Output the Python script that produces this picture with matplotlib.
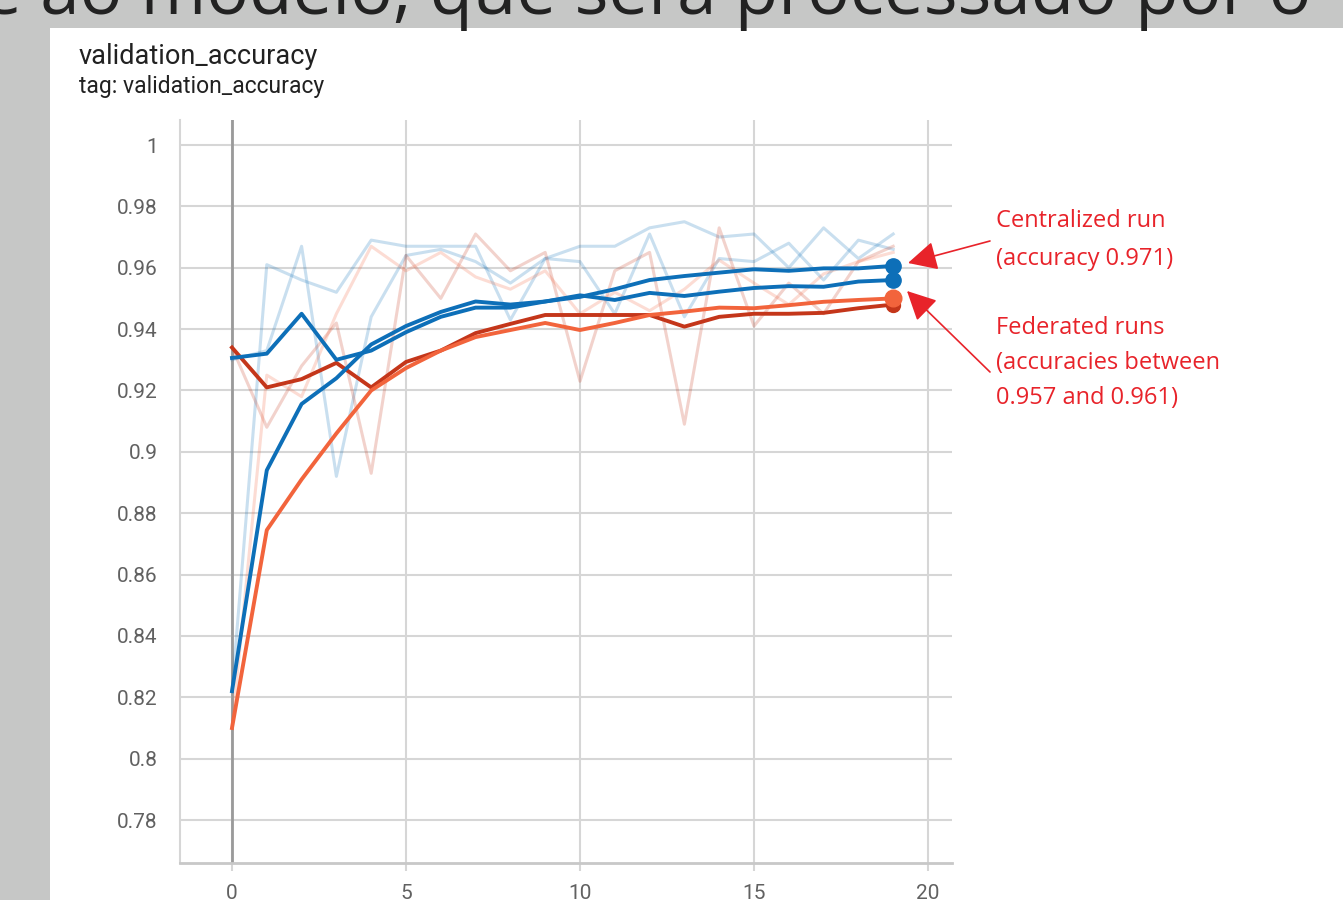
#Recreate TensorBoard validation_accuracy chart (video frame screenshot)
import matplotlib
matplotlib.use("Agg")
import matplotlib.pyplot as plt
from matplotlib.patches import Rectangle, FancyArrowPatch

#Data
steps = list(range(20))

# smoothed curves
blue_a_smooth = [0.9306, 0.932, 0.945, 0.930, 0.933, 0.939, 0.944, 0.947, 0.947, 0.949,
                 0.951, 0.9495, 0.9518, 0.9508, 0.9522, 0.9534, 0.954, 0.9538, 0.9555, 0.956]
blue_b_smooth = [0.822, 0.894, 0.9156, 0.924, 0.935, 0.941, 0.9456, 0.949, 0.948, 0.949,
                 0.9505, 0.953, 0.956, 0.9573, 0.9584, 0.9595, 0.959, 0.9598, 0.9598, 0.9606]
red_smooth = [0.934, 0.921, 0.9237, 0.929, 0.921, 0.9293, 0.933, 0.9387, 0.9417, 0.9446,
              0.9446, 0.9446, 0.9446, 0.9408, 0.944, 0.945, 0.945, 0.9453, 0.9468, 0.948]
orange_smooth = [0.810, 0.8745, 0.891, 0.906, 0.920, 0.9273, 0.933, 0.9374, 0.9397, 0.942,
                 0.9397, 0.942, 0.9446, 0.9457, 0.947, 0.9468, 0.9478, 0.9489, 0.9495, 0.950]

# raw curves (faint)
blue_a_raw = [0.930, 0.933, 0.967, 0.892, 0.944, 0.964, 0.966, 0.962, 0.955, 0.963,
              0.967, 0.967, 0.973, 0.975, 0.970, 0.971, 0.960, 0.973, 0.963, 0.971]
blue_b_raw = [0.822, 0.961, 0.956, 0.952, 0.969, 0.967, 0.967, 0.967, 0.943, 0.963,
              0.962, 0.945, 0.971, 0.944, 0.963, 0.962, 0.968, 0.956, 0.969, 0.966]
red_raw = [0.934, 0.908, 0.928, 0.942, 0.893, 0.964, 0.950, 0.971, 0.959, 0.965,
           0.923, 0.959, 0.965, 0.909, 0.973, 0.941, 0.955, 0.945, 0.962, 0.967]
orange_raw = [0.810, 0.925, 0.918, 0.945, 0.967, 0.959, 0.965, 0.957, 0.953, 0.959,
              0.945, 0.952, 0.946, 0.953, 0.9625, 0.955, 0.948, 0.958, 0.962, 0.965]

y_ticks = [1, 0.98, 0.96, 0.94, 0.92, 0.9, 0.88, 0.86, 0.84, 0.82, 0.8, 0.78]
y_labels = ["1", "0.98", "0.96", "0.94", "0.92", "0.9", "0.88", "0.86", "0.84", "0.82", "0.8", "0.78"]
x_ticks = [0, 5, 10, 15, 20]

central_lines = ["Centralized run", "(accuracy 0.971)"]
federated_lines = ["Federated runs", "(accuracies between", "0.957 and 0.961)"]

BLUE = "#0d6fb8"
RED = "#c4361a"
ORANGE = "#f2643c"
ANNO = "#e8232a"

W, H = 1343, 900

#Figure
fig = plt.figure(figsize=(13.43, 9), dpi=100, facecolor="#c6c7c6")
fig.add_artist(Rectangle((50 / W, 0), 1, 1 - 28 / H, transform=fig.transFigure,
                         facecolor="white", edgecolor="none", zorder=0))

# caption text cut by the top of the frame
fig.text(-18 / W, 1 - 14 / H, "e ao modelo, que será processado por o",
         fontsize=51, family="Open Sans", color="#222222", va="baseline", ha="left")

fig.text(79 / W, 1 - 56 / H, "validation_accuracy", fontsize=19.5, family="Roboto",
         color="#212121", va="center")
fig.text(79 / W, 1 - 87 / H, "tag: validation_accuracy", fontsize=16.5, family="Roboto",
         color="#212121", va="center")

ax = fig.add_axes([180 / W, 1 - 863 / H, (952 - 180) / W, (863 - 120) / H])
ax.set_xlim(-1.494, 20.69)
ax.set_ylim(0.766, 1.00815)

ax.grid(True, color="#d6d6d6", lw=1.5)
ax.set_axisbelow(True)
ax.axvline(0, color="#9a9a9a", lw=2, zorder=1)

raw_series = [(blue_a_raw, BLUE), (blue_b_raw, BLUE), (red_raw, RED), (orange_raw, ORANGE)]
for vals, c in raw_series:
    ax.plot(steps, vals, color=c, lw=2.2, alpha=0.22, zorder=2)

smooth_series = [(red_smooth, RED, 10), (orange_smooth, ORANGE, 12),
                 (blue_a_smooth, BLUE, 11), (blue_b_smooth, BLUE, 11)]
for vals, c, ms in smooth_series:
    ax.plot(steps, vals, color=c, lw=2.8, zorder=3, solid_joinstyle="round")
    ax.plot(steps[-1], vals[-1], "o", color=c, ms=ms, zorder=4)

ax.set_yticks(y_ticks)
ax.set_yticklabels(y_labels)
ax.set_xticks(x_ticks)
ax.tick_params(axis="y", length=0, pad=16, labelsize=15, labelcolor="#616161")
ax.tick_params(axis="x", length=6, width=1.5, color="#d6d6d6", pad=9,
               labelsize=15, labelcolor="#616161")
for lab in ax.get_xticklabels() + ax.get_yticklabels():
    lab.set_family("Roboto")

for s in ["top", "right"]:
    ax.spines[s].set_visible(False)
ax.spines["left"].set_color("#d6d6d6")
ax.spines["left"].set_linewidth(1.5)
ax.spines["bottom"].set_color("#c8c8c8")
ax.spines["bottom"].set_linewidth(2)

#Annotations
for txt, yp in zip(central_lines, [221, 259]):
    fig.text(996 / W, 1 - yp / H, txt, fontsize=17, family="Open Sans", color=ANNO, va="center")
for txt, yp in zip(federated_lines, [328, 363, 398]):
    fig.text(996 / W, 1 - yp / H, txt, fontsize=17, family="Open Sans", color=ANNO, va="center")

arrow = dict(arrowstyle="-|>,head_length=0.6,head_width=0.3", color=ANNO, lw=1.2,
             mutation_scale=30, shrinkA=0, shrinkB=0)
fig.add_artist(FancyArrowPatch((990 / W, 1 - 241 / H), (908 / W, 1 - 263 / H),
                               transform=fig.transFigure, **arrow))
fig.add_artist(FancyArrowPatch((990 / W, 1 - 372 / H), (907 / W, 1 - 291 / H),
                               transform=fig.transFigure, **arrow))

fig.savefig("out.png", dpi=100, facecolor=fig.get_facecolor())
